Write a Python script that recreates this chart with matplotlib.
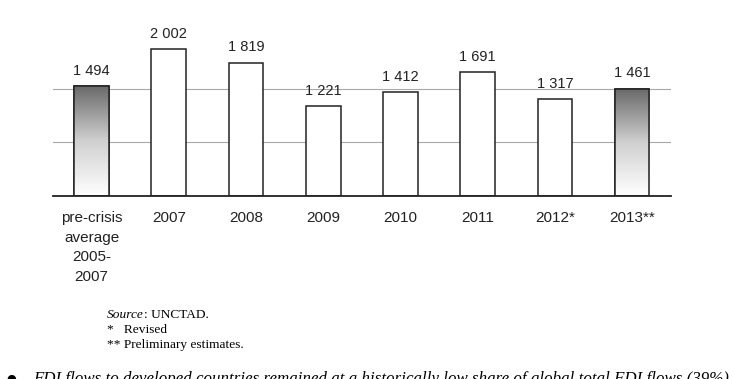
import matplotlib
matplotlib.use("Agg")
import matplotlib.pyplot as plt
import numpy as np
from matplotlib.colors import LinearSegmentedColormap

categories = ["pre-crisis\naverage\n2005-\n2007", "2007", "2008", "2009", "2010", "2011", "2012*", "2013**"]
values = [1494, 2002, 1819, 1221, 1412, 1691, 1317, 1461]
labels = ["1 494", "2 002", "1 819", "1 221", "1 412", "1 691", "1 317", "1 461"]
gradient_bars = [0, 7]
gridlines = [730, 1460]

W, H = 734, 379
fig = plt.figure(figsize=(W / 100, H / 100), dpi=100)
left, right = 53 / W, 670.7 / W
bottom = 1 - 195.7 / H
ymax = 2400
height = ymax * 0.0732 / H
ax = fig.add_axes([left, bottom, right - left, height])
ax.set_xlim(-0.5, len(values) - 0.5)
ax.set_ylim(0, ymax)

for g in gridlines:
    ax.axhline(g, color="#a8a8a8", lw=0.8, zorder=0)

x = np.arange(len(values))
bars = ax.bar(x, values, width=0.45, color="white", edgecolor="#222222", linewidth=1.1, zorder=2)

cmap = LinearSegmentedColormap.from_list("g", ["#ffffff", "#d0d0d0", "#6a6a6a"])
grad = np.linspace(0, 1, 256).reshape(-1, 1)
for i in gradient_bars:
    b = bars[i]
    x0, w, h = b.get_x(), b.get_width(), b.get_height()
    im = ax.imshow(grad, extent=[x0, x0 + w, 0, h], origin="lower", aspect="auto",
                   cmap=cmap, zorder=2.5)
    im.set_clip_path(b)
    ax.bar(x[i], values[i], width=0.45, facecolor="none", edgecolor="#222222", linewidth=1.1, zorder=3)

for xi, v, lab in zip(x, values, labels):
    ax.text(xi, v + 115, lab, ha="center", va="bottom", fontsize=10.5,
            family="Liberation Sans", color="#222222")

for s in ["top", "right", "left"]:
    ax.spines[s].set_visible(False)
ax.spines["bottom"].set_color("#222222")
ax.spines["bottom"].set_linewidth(1.3)
ax.set_yticks([])
ax.set_xticks(x)
ax.set_xticklabels(categories, fontsize=11, family="Liberation Sans", color="#222222",
                   linespacing=1.52)
ax.tick_params(axis="x", length=0, pad=11)

fs = 9.6
src = fig.text(107 / W, 1 - 315 / H, "Source", fontsize=fs, family="Liberation Serif",
               style="italic", va="center", ha="left")
fig.canvas.draw()
bb = src.get_window_extent(renderer=fig.canvas.get_renderer())
fig.text(bb.x1 / W + 0.5 / W, 1 - 315 / H, ": UNCTAD.", fontsize=fs, family="Liberation Serif",
         va="center", ha="left")
fig.text(107 / W, 1 - 330 / H, "*   Revised", fontsize=fs, family="Liberation Serif",
         va="center", ha="left")
fig.text(107 / W, 1 - 345 / H, "** Preliminary estimates.", fontsize=fs, family="Liberation Serif",
         va="center", ha="left")

fig.text(6 / W, 1 - 374 / H, "\u25cf", fontsize=8, family="DejaVu Sans", va="top", ha="left")
fig.text(33 / W, 1 - 371 / H,
         "FDI flows to developed countries remained at a historically low share of global total FDI flows (39%)",
         fontsize=12.2, family="Liberation Serif", style="italic", va="top", ha="left")

fig.savefig("out.png", dpi=100)
